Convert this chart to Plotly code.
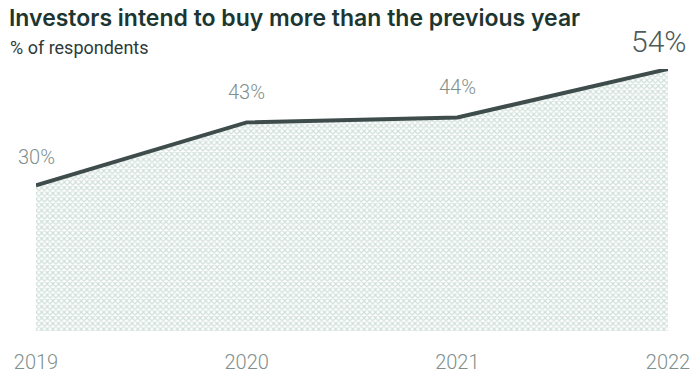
import plotly.graph_objects as go

# Survey results: share of investors intending to buy more than the previous year
years = [2019, 2020, 2021, 2022]
year_labels = ["2019", "2020", "2021", "2022"]
share_pct = [30, 43, 44, 54]
value_labels = ["30%", "43%", "44%", "54%"]

LINE = "#3e4c4b"
LABEL = "#7f8f8c"
TITLE = "#1d3631"

fig = go.Figure()
fig.add_trace(go.Scatter(
    x=years,
    y=share_pct,
    mode="lines",
    line=dict(color=LINE, width=4),
    fill="tozeroy",
    fillcolor="rgba(0,0,0,0)",
    fillpattern=dict(shape="x", fgcolor="#9dbdb1", bgcolor="#ffffff",
                     size=4, solidity=0.5),
    cliponaxis=False,
    hoverinfo="skip",
))

# value labels above each point; the final year is emphasised
label_lift = [14, 16, 17, 8]
for i, (yr, v, txt) in enumerate(zip(years, share_pct, value_labels)):
    last = i == len(years) - 1
    fig.add_annotation(
        x=yr, y=v, text=txt, showarrow=False,
        xanchor="right" if last else "center",
        yanchor="bottom",
        xshift=20 if last else 0,
        yshift=label_lift[i],
        font=dict(family="Roboto", size=30 if last else 20,
                  color="#4d5b59" if last else LABEL, weight=300),
    )

fig.add_annotation(
    text="% of respondents", showarrow=False,
    xref="paper", yref="paper", x=-28 / 632, y=(331 - 48) / 262,
    xanchor="left", yanchor="middle",
    font=dict(family="Roboto", size=18, color="#2e3a39"),
)

fig.update_layout(
    width=691, height=376,
    margin=dict(l=36, r=23, t=69, b=45, autoexpand=False),
    paper_bgcolor="white", plot_bgcolor="white",
    showlegend=False,
    title=dict(
        text="Investors intend to buy more than the previous year",
        x=9 / 691, xanchor="left", xref="container",
        y=1 - 18 / 376, yanchor="middle", yref="container",
        font=dict(family="Inter", size=23, color=TITLE, weight=600),
    ),
    xaxis=dict(
        range=[2019, 2022], tickvals=years, ticktext=year_labels,
        showgrid=True, gridcolor="white", gridwidth=2,
        layer="above traces", zeroline=False, showline=False,
        ticks="", ticklabelstandoff=17, automargin=False,
        tickfont=dict(family="Roboto", size=20, color=LABEL, weight=300),
        fixedrange=True,
    ),
    yaxis=dict(
        range=[0, 54], visible=False, fixedrange=True, automargin=False,
    ),
)

fig.write_html("out.html")
